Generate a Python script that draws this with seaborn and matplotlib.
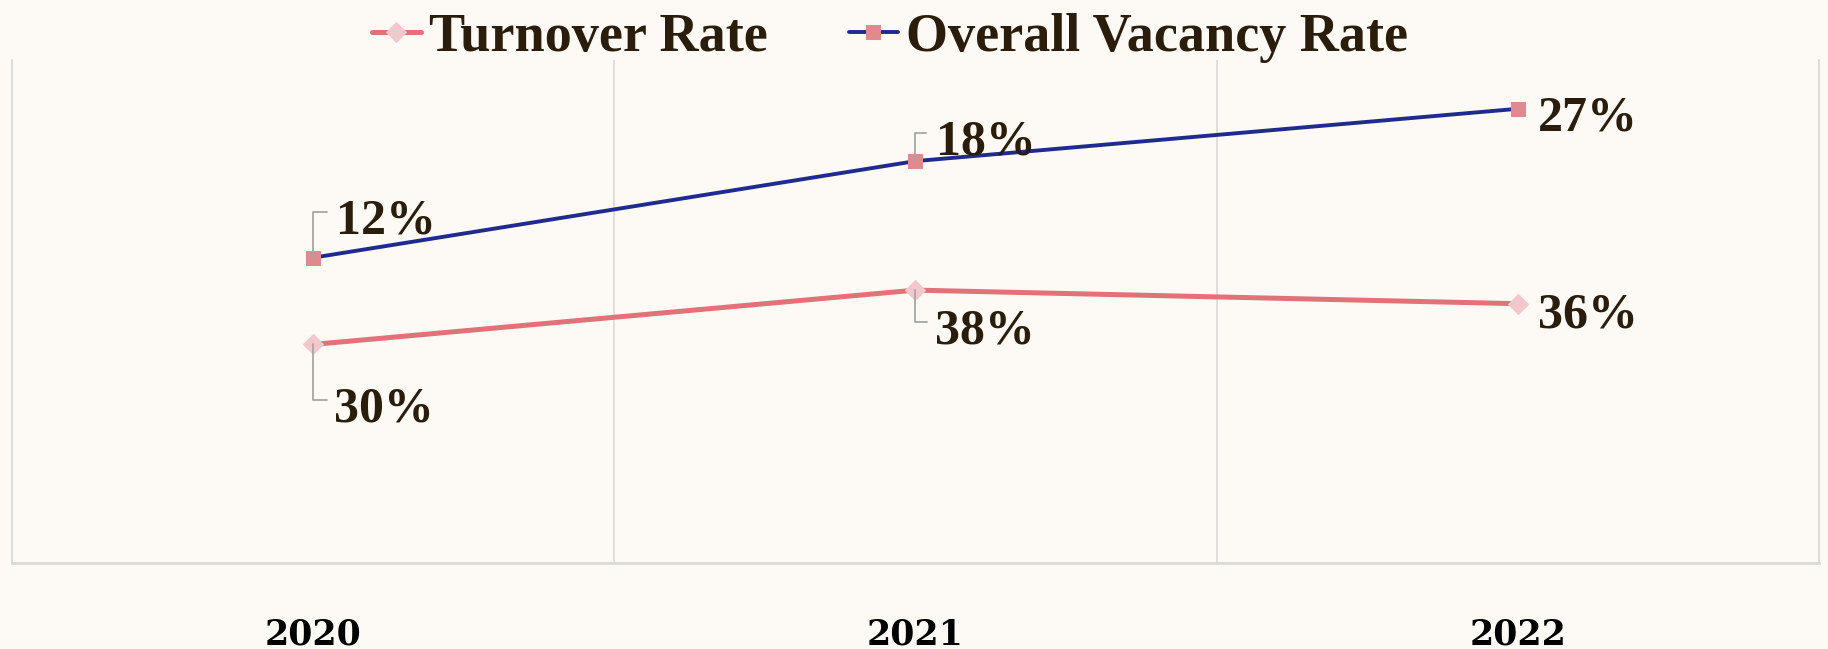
import matplotlib
matplotlib.use("Agg")
import matplotlib.pyplot as plt
import seaborn as sns
import pandas as pd

# data
years = ["2020", "2021", "2022"]
turnover_rate = [0.30, 0.38, 0.36]
turnover_labels = ["30%", "38%", "36%"]
# the vacancy line sits on its own (hidden) scale in the source chart
vacancy_position = [0.607, 0.799, 0.903]
vacancy_labels = ["12%", "18%", "27%"]

BG = "#FDFAF5"
TEXT = "#2A1D0C"
GRID = "#D9D9D9"
LEADER = "#A6A6A6"

# label offsets in pixels: (text dx, text dy, leader dx, leader dy)
turnover_offsets = [(21, -77, 14, -56), (20, -53, 12, -32), (20, -24, None, None)]
vacancy_offsets = [(23, 24, 14, 46), (21, 7, 11, 28), (20, -22, None, None)]


def label_point(axis, x, y, text, off):
    dx, dy, lx, ly = off
    axis.annotate(text, (x, y), xytext=(dx, dy), textcoords="offset pixels",
                  ha="left", va="baseline", fontsize=36, fontweight="bold",
                  color=TEXT, zorder=5)
    if lx is not None:
        axis.annotate("", (x, y), xytext=(lx, ly), textcoords="offset pixels",
                      arrowprops=dict(arrowstyle="-", color=LEADER, lw=1.3,
                                      shrinkA=0, shrinkB=0,
                                      connectionstyle="angle,angleA=0,angleB=90,rad=0"))


sns.set_theme(style="white")
plt.rcParams["font.family"] = ["Liberation Serif", "DejaVu Serif"]

df = pd.DataFrame({"year": range(len(years)),
                   "turnover": turnover_rate,
                   "vacancy": vacancy_position})

fig, ax = plt.subplots(figsize=(18.28, 6.49), dpi=100)
fig.patch.set_facecolor(BG)
ax.set_facecolor(BG)
plt.subplots_adjust(left=12 / 1828, right=1819 / 1828, top=1 - 60 / 649, bottom=1 - 563 / 649)

sns.lineplot(data=df, x="year", y="turnover", ax=ax, color="#E27178", lw=3.6,
             marker="D", markersize=10, markerfacecolor="#F4C7CC",
             markeredgecolor="#F4C7CC", legend=False)
ax.set_ylim(-0.022, 0.719)

ax2 = ax.twinx()
sns.lineplot(data=df, x="year", y="vacancy", ax=ax2, color="#1F2B8E", lw=2.8,
             marker="s", markersize=10, markerfacecolor="#E08A90",
             markeredgecolor="#E08A90", legend=False)
ax2.set_ylim(0, 1)

for axis in (ax, ax2):
    axis.set_xlim(-0.5, 2.5)
    axis.set_yticks([])
    axis.set_ylabel("")
    axis.set_xlabel("")

ax.set_xticks(range(len(years)))
ax.set_xticklabels(years, fontfamily="DejaVu Serif", fontweight="bold",
                   fontsize=25, color="black")
ax.set_xticks([0.5, 1.5], minor=True)
ax.tick_params(axis="x", which="both", length=0, pad=39)
ax.grid(which="minor", axis="x", color=GRID, lw=1.2)
ax.grid(which="major", visible=False)

for side in ["left", "right", "bottom"]:
    ax.spines[side].set_color(GRID)
    ax.spines[side].set_linewidth(1.3)
ax.spines["bottom"].set_linewidth(2)
ax.spines["top"].set_visible(False)
for sp in ax2.spines.values():
    sp.set_visible(False)

for i, (v, lab) in enumerate(zip(turnover_rate, turnover_labels)):
    label_point(ax, i, v, lab, turnover_offsets[i])
for i, (v, lab) in enumerate(zip(vacancy_position, vacancy_labels)):
    label_point(ax2, i, v, lab, vacancy_offsets[i])

fig.legend([ax.lines[0], ax2.lines[0]], ["Turnover Rate", "Overall Vacancy Rate"],
           loc="center", bbox_to_anchor=(890 / 1828, 1 - 38 / 649), ncol=2,
           frameon=False, prop={"size": 39, "weight": "bold"}, labelcolor=TEXT,
           handlelength=0.9, handletextpad=0.15, columnspacing=1.5)

fig.savefig("out.png", dpi=100, facecolor=BG)
